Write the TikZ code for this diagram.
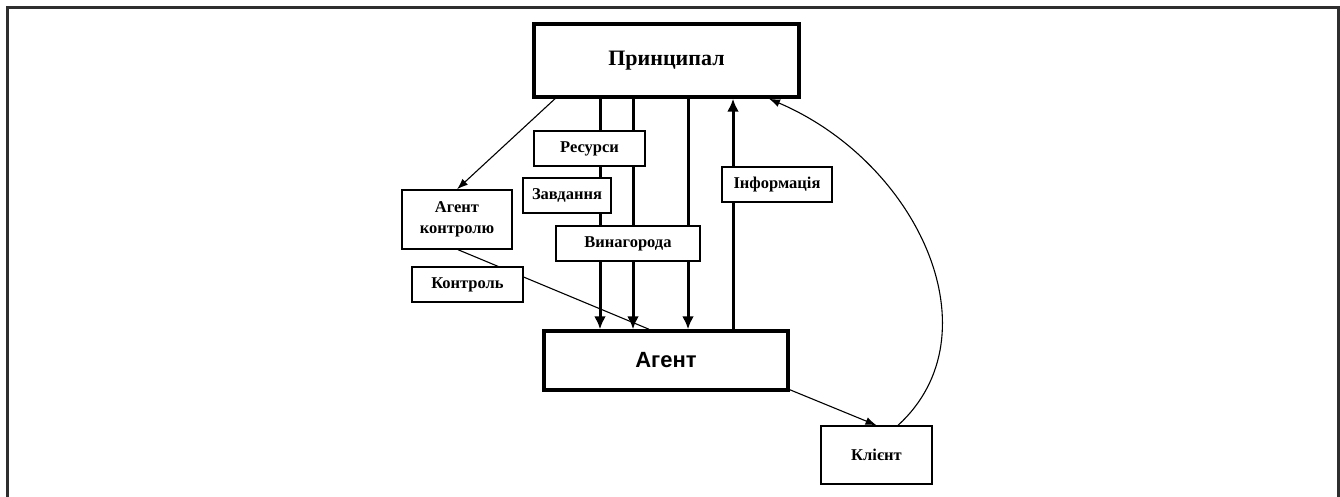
\documentclass[tikz,border=0pt]{standalone}
\usepackage{fontspec}
\setmainfont{Liberation Serif}
\newfontfamily\arialfont{Liberation Sans}
\usetikzlibrary{arrows.meta,backgrounds}
\begin{document}
\begin{tikzpicture}[x=1pt,y=-1pt,
  bigbox/.style={draw,line width=3.5pt,fill=white,inner sep=0pt,font=\bfseries\fontsize{22}{24}\selectfont},
  lbl/.style={draw,line width=1.4pt,fill=white,inner sep=0pt,align=center,font=\bfseries\fontsize{16.5}{22}\selectfont},
  flow/.style={line width=3pt,-{Latex[length=13pt,width=12pt]}},
  thin/.style={line width=1.1pt},
  thinarrow/.style={line width=1.1pt,-{Latex[length=11pt,width=8pt]}}]
\useasboundingbox (0,0) rectangle (1340,497);
\draw[line width=3pt,color=black!82] (7,500) -- (7,8) -- (1338,8) -- (1338,500);
% nodes
\node[bigbox,minimum width=265pt,minimum height=73pt] (P) at (666.5,60.5) {Принципал};
\node[bigbox,minimum width=244pt,minimum height=59pt,font=\arialfont\bfseries\fontsize{22}{24}\selectfont] (A) at (666,360.5) {Агент};
\node[lbl,minimum width=111pt,minimum height=35pt] (R) at (589.5,148.5) {Ресурси};
\node[lbl,minimum width=88pt,minimum height=35pt] (Z) at (567,195.5) {Завдання};
\node[lbl,minimum width=110pt,minimum height=35pt] (I) at (777,184.5) {Інформація};
\node[lbl,minimum width=110pt,minimum height=59pt] (AK) at (457,219.5) {Агент\\[-1pt]контролю};
\node[lbl,minimum width=144pt,minimum height=35pt] (V) at (628,243.5) {Винагорода};
\node[lbl,minimum width=111pt,minimum height=35pt] (K) at (467.5,284.5) {Контроль};
\node[lbl,minimum width=111pt,minimum height=58pt] (C) at (876.5,455) {Клієнт};
\coordinate (x1) at (600,0);
\coordinate (x2) at (633,0);
\coordinate (x3) at (688,0);
\coordinate (x4) at (733,0);
\coordinate (pk) at (555,0);
\coordinate (ak) at (458,0);
\coordinate (ka) at (649,0);
\coordinate (ac) at (788,389);
\coordinate (ct) at (898,0);
\coordinate (pc) at (769,0);
\begin{scope}[on background layer]
\draw[flow] (x1 |- P.south) -- (x1 |- A.north);
\draw[flow] (x2 |- P.south) -- (x2 |- A.north);
\draw[flow] (x3 |- P.south) -- (x3 |- A.north);
\draw[flow] (x4 |- A.north) -- (x4 |- P.south);
\draw[thinarrow] (pk |- P.south) -- (AK.north);
\draw[thin] (ak |- AK.south) -- (ka |- A.north);
\draw[thinarrow] (ac) -- (C.north);
\draw[thinarrow] (ct |- C.north) .. controls (997,335) and (919,163) .. (pc |- P.south);
\end{scope}
\end{tikzpicture}
\end{document}
